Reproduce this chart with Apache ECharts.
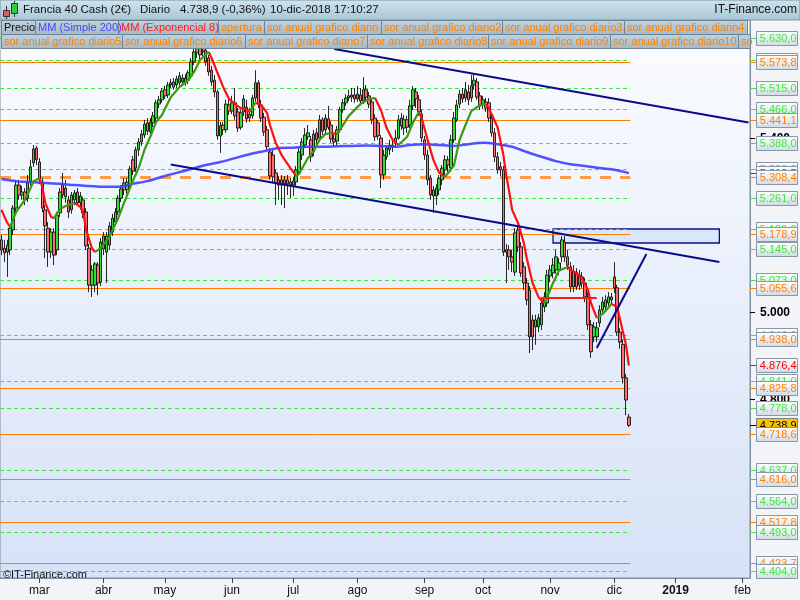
<!DOCTYPE html>
<html><head><meta charset="utf-8">
<script src="https://cdn.jsdelivr.net/npm/echarts@6/dist/echarts.min.js"></script>
<style>html,body{margin:0;padding:0;background:#f2f4f7}#c{width:800px;height:600px}</style>
</head><body><div id="c"></div>
<script>
// ---------- DATA ----------
const startDate = '2018-02-12';      // first weekday shown on the axis
const totalDays = 257;               // weekday slots on the axis
const monthNames = ['ene','feb','mar','abr','may','jun','jul','ago','sep','oct','nov','dic'];

// daily candles: [open, close, low, high]
const candles = [
[5165,5142,5130,5176],[5146,5135,5114,5165],[5153,5137,5080,5165],[5142,5192,5130,5199],[5188,5238,5176,5245],
[5238,5291,5229,5303],[5291,5268,5257,5303],[5268,5275,5257,5289],[5275,5257,5245,5284],[5261,5296,5252,5314],
[5298,5333,5289,5349],[5342,5374,5333,5383],[5376,5349,5337,5381],[5344,5303,5293,5353],[5298,5238,5229,5307],
[5234,5197,5123,5245],[5192,5137,5103,5206],[5137,5183,5123,5192],[5183,5130,5107,5192],[5142,5222,5130,5229],
[5227,5275,5218,5284],[5293,5268,5261,5319],[5284,5264,5250,5303],[5257,5229,5215,5266],[5234,5268,5225,5275],
[5257,5273,5245,5280],[5275,5250,5243,5284],[5250,5266,5234,5275],[5257,5227,5215,5264],[5229,5151,5142,5238],
[5146,5061,5045,5156],[5061,5096,5034,5107],[5061,5110,5045,5114],[5107,5066,5038,5114],[5068,5160,5059,5169],
[5174,5144,5130,5183],[5137,5174,5066,5183],[5153,5197,5142,5206],[5183,5215,5174,5225],[5206,5229,5197,5238],
[5229,5261,5222,5268],[5261,5282,5252,5291],[5296,5280,5268,5307],[5280,5298,5271,5307],[5291,5328,5284,5335],
[5349,5323,5314,5358],[5330,5372,5321,5379],[5372,5390,5358,5399],[5390,5408,5381,5418],[5406,5431,5399,5441],
[5434,5415,5406,5445],[5413,5436,5406,5445],[5434,5450,5424,5459],[5445,5480,5438,5487],[5477,5487,5468,5496],
[5487,5507,5480,5514],[5510,5496,5489,5519],[5498,5521,5491,5528],[5521,5526,5514,5535],[5528,5516,5510,5537],
[5521,5535,5514,5542],[5542,5526,5519,5551],[5528,5537,5521,5546],[5537,5528,5519,5546],[5532,5549,5523,5555],
[5542,5574,5535,5583],[5574,5597,5567,5606],[5595,5606,5583,5618],[5606,5590,5578,5615],[5597,5601,5583,5613],
[5601,5574,5565,5611],[5583,5551,5542,5590],[5555,5528,5519,5565],[5532,5505,5493,5544],[5505,5404,5395,5510],
[5404,5427,5365,5436],[5429,5418,5406,5436],[5418,5477,5411,5487],[5475,5461,5452,5487],[5461,5480,5454,5496],
[5480,5450,5441,5514],[5459,5422,5413,5468],[5424,5457,5418,5464],[5459,5489,5450,5498],[5470,5443,5434,5487],
[5454,5445,5436,5468],[5450,5491,5443,5498],[5491,5526,5482,5555],[5526,5477,5468,5532],[5475,5445,5436,5487],
[5447,5413,5404,5457],[5418,5379,5372,5427],[5367,5312,5303,5376],[5360,5310,5298,5372],[5319,5296,5245,5326],
[5303,5291,5257,5312],[5291,5303,5245,5314],[5303,5294,5238,5312],[5294,5303,5268,5314],[5298,5291,5261,5307],
[5291,5300,5266,5310],[5298,5326,5289,5335],[5321,5367,5314,5376],[5360,5390,5349,5399],[5383,5406,5376,5422],
[5402,5411,5395,5429],[5395,5356,5344,5404],[5367,5408,5358,5418],[5411,5395,5383,5422],[5399,5441,5390,5452],
[5441,5415,5406,5447],[5418,5445,5408,5454],[5443,5424,5418,5473],[5429,5397,5388,5438],[5397,5390,5381,5408],
[5392,5418,5383,5427],[5418,5464,5411,5471],[5464,5480,5457,5489],[5480,5491,5473,5500],[5491,5496,5484,5510],
[5493,5498,5482,5514],[5498,5489,5480,5514],[5489,5500,5482,5519],[5498,5484,5477,5514],[5484,5510,5477,5539],
[5510,5493,5486,5521],[5496,5477,5468,5505],[5482,5441,5431,5491],[5445,5402,5392,5454],[5434,5404,5395,5441],
[5399,5314,5284,5406],[5314,5360,5303,5372],[5356,5376,5349,5383],[5372,5383,5360,5395],[5383,5379,5367,5399],
[5388,5399,5376,5418],[5399,5441,5395,5452],[5445,5427,5418,5457],[5422,5441,5406,5452],[5441,5424,5411,5450],
[5429,5473,5422,5487],[5473,5510,5463,5519],[5505,5489,5468,5514],[5487,5459,5450,5498],[5454,5399,5390,5464],
[5395,5360,5349,5404],[5360,5303,5291,5372],[5307,5268,5257,5314],[5280,5266,5227,5289],[5266,5284,5245,5293],
[5280,5307,5268,5314],[5303,5330,5291,5337],[5326,5349,5314,5360],[5349,5337,5321,5358],[5330,5395,5321,5406],
[5395,5445,5388,5459],[5441,5475,5436,5487],[5477,5500,5468,5510],[5500,5489,5480,5514],[5491,5510,5482,5528],
[5505,5487,5475,5521],[5491,5519,5482,5544],[5521,5532,5510,5546],[5528,5493,5487,5537],[5496,5473,5464,5505],
[5477,5487,5466,5496],[5482,5468,5459,5491],[5480,5445,5436,5491],[5445,5411,5402,5454],[5411,5356,5344,5422],
[5356,5326,5317,5367],[5333,5326,5312,5344],[5326,5137,5128,5335],[5142,5137,5066,5156],[5142,5126,5096,5153],
[5126,5114,5091,5142],[5091,5181,5082,5192],[5188,5149,5137,5197],[5149,5089,5080,5160],[5103,5066,5050,5114],
[5066,5027,5015,5078],[5050,4942,4905,5059],[4981,4942,4912,4993],[4965,4981,4924,4993],[4965,4986,4953,4995],
[4970,5020,4958,5032],[5011,5034,4999,5045],[5020,5084,5011,5096],[5082,5096,5068,5107],[5089,5107,5077,5123],
[5096,5126,5087,5142],[5096,5112,5084,5123],[5126,5165,5114,5174],[5160,5126,5114,5174],[5126,5107,5096,5142],
[5103,5057,5045,5114],[5057,5091,5045,5107],[5091,5057,5050,5100],[5084,5061,5050,5096],[5080,5066,5055,5091],
[5066,5034,5022,5078],[5034,4970,4958,5045],[4970,4908,4894,4981],[4942,4965,4930,4976],[4942,4963,4930,4976],
[4974,5004,4965,5015],[5004,5022,4995,5034],[5011,5027,5004,5038],[5020,5034,5013,5045],[5027,5034,5018,5043],
[5080,5055,5043,5114],[5055,4953,4945,5062],[4953,4930,4915,4962],[4925,4848,4835,4935],[4848,4797,4762,4857],
[4758,4738.9,4735,4765]
];

// MM (Simple 200): [day index, value]
const smaPoints = [[0,5305],[5,5300],[10,5298],[15,5296],[20,5294],[25,5291],[30,5289],[35,5287],[40,5287],[45,5294],
[50,5300],[55,5310],[60,5319],[65,5328],[70,5337],[75,5344],[80,5353],[85,5362],[90,5369],[95,5376],[100,5377],
[105,5379],[110,5379],[115,5380],[120,5381],[125,5382],[130,5381],[135,5379],[140,5383],[145,5385],[150,5383],
[155,5381],[160,5385],[165,5388],[170,5385],[175,5379],[180,5367],[185,5356],[190,5346],[195,5339],[200,5335],
[205,5330],[210,5326],[215,5318.5]];

// MM (Exponencial 8), falling (red) and rising (green) stretches
const emaRedSegments = [
 [[0,5234],[2,5204],[3,5195]],
 [[13,5307],[14,5287],[15,5250],[17,5218],[18,5215]],
 [[25,5250],[27,5241],[28,5229],[29,5188],[31,5146],[32,5137]],
 [[71,5597],[72,5583],[74,5549],[76,5516],[78,5489],[80,5477],[82,5468],[84,5464],[85,5459]],
 [[87,5480],[89,5475],[91,5457],[92,5429],[94,5388],[96,5360],[99,5330],[101,5312]],
 [[113,5411],[115,5408]],
 [[128,5491],[130,5464],[132,5422],[134,5395],[136,5383]],
 [[143,5459],[144,5445],[146,5395],[148,5349],[150,5319],[152,5310]],
 [[166,5477],[167,5468],[170,5424],[172,5360],[173,5312],[174,5275],[175,5234],[177,5204],[179,5158],[180,5123],[182,5066],[184,5034],[186,5020]],
 [[194,5103],[195,5096],[197,5089],[199,5075],[201,5050],[202,5020],[204,4986]],
 [[209,5018],[211,5011],[212,4981],[214,4924],[215,4876.4]]
];
const emaGreenSegments = [
 [[3,5195],[5,5229],[8,5257],[10,5284],[11,5300],[13,5307]],
 [[18,5215],[20,5236],[22,5243],[25,5250]],
 [[32,5137],[34,5146],[37,5172],[40,5215],[42,5250],[45,5300],[47,5330],[49,5372],[51,5402],[53,5436],[55,5452],[58,5493],[61,5516],[64,5532],[66,5551],[68,5578],[71,5597]],
 [[85,5459],[87,5480]],
 [[101,5312],[102,5317],[105,5353],[107,5369],[109,5395],[111,5408],[113,5411]],
 [[115,5408],[116,5418],[119,5450],[123,5477],[126,5489],[128,5491]],
 [[136,5383],[139,5402],[141,5434],[143,5459]],
 [[152,5310],[155,5335],[157,5395],[159,5429],[161,5461],[164,5475],[166,5477]],
 [[186,5020],[187,5034],[189,5066],[191,5094],[194,5103]],
 [[204,4986],[206,4995],[208,5009],[209,5018]]
];

const greenLevels = [5630.0,5578.0,5515.0,5466.0,5388.0,5329.0,5261.0,5189.0,5145.0,5073.0,4946.0,4841.0,4778.0,4637.0,4564.0,4493.0,4404.0];
const orangeLevels = [5573.8,5441.1,5178.9,5055.6,4938.0,4825.8,4718.6,4616.0,4517.8,4423.7];
const aperturaLevel = 5308.4;
const yTickValues = [5400, 5000, 4800];
const lastPrice = 4738.9, lastEma = 4876.4, lastSma = 5318.5;

// drawn objects: [day index, value]
const trendLines = [
 [[114,5603.7],[256,5434.6]],
 [[58,5338.3],[246,5114.3]],
 [[204,4916.7],[221,5132.7]]
];
const redSegment = [[185,5031.6],[204,5031.6]];
const boxArea = [[189,5190.1],[246,5157.9]];

// ---------- BUILD ----------
const FONT = '"Liberation Sans", Arial, Helvetica, sans-serif';
const ORANGE = '#ff8000', GREEN_TXT = '#3ee83e', NAVY = '#0b0b8a';

const categories = [];
(function(){
  const d = new Date(startDate + 'T12:00:00Z');
  while (categories.length < totalDays) {
    const wd = d.getUTCDay();
    if (wd !== 0 && wd !== 6) categories.push(d.toISOString().slice(0,10));
    d.setUTCDate(d.getUTCDate() + 1);
  }
})();
const monthOf = s => +s.slice(5,7) - 1;
const isMonthStart = categories.map((c,i) => i > 0 && monthOf(c) !== monthOf(categories[i-1]));
const lastIdx = candles.length - 1;
const edgeIdx = totalDays - 1;

function fmt(v, dec) {
  const s = v.toFixed(dec);
  const parts = s.split('.');
  const ip = parts[0].replace(/\B(?=(\d{3})+(?!\d))/g, '.');
  return parts[1] ? ip + ',' + parts[1] : ip;
}

// level lines: [x index, value, kind]  kind 0 = green dashed, 1 = orange, 2 = apertura
const levelStyles = [
  {stroke:'#3ce63c', lineWidth:1, lineDash:[4,3]},
  {stroke:ORANGE, lineWidth:1, lineDash:null},
  {stroke:'rgba(255,140,40,0.85)', lineWidth:3, lineDash:[11,9]}
];
const levelData = greenLevels.map(v => [0, v, 0]).concat(orangeLevels.map(v => [0, v, 1])).concat([[0, aperturaLevel, 2]]);

// right-hand labels
const boxes = [];
greenLevels.forEach(v => boxes.push({v, c:GREEN_TXT, t:'#45e045'}));
orangeLevels.forEach(v => boxes.push({v, c:ORANGE, t:ORANGE}));
boxes.push({v:aperturaLevel, c:ORANGE, t:ORANGE});
boxes.push({v:lastSma, c:'#3c3cff', t:'#3c3cff'});
boxes.push({v:lastEma, c:'#ff0000', t:'#ff0000'});
boxes.push({v:lastPrice, c:'#000', t:'#000', bg:'#f7c600', border:'#7f7f7f'});
boxes.sort((a,b) => b.v - a.v);
const labelSpecs = yTickValues.map(v => ({v, tick:true})).concat(boxes);
const labelData = labelSpecs.map(s => [edgeIdx, s.v]);

// EMA series
const emaSeries = [];
emaRedSegments.forEach(seg => emaSeries.push({type:'line', data:seg, symbol:'none', z:4, silent:true,
  lineStyle:{color:'#ff1010', width:2.2}}));
emaGreenSegments.forEach(seg => emaSeries.push({type:'line', data:seg, symbol:'none', z:4, silent:true,
  lineStyle:{color:'#3c9a10', width:2.2}}));

// header graphics
const legendRow1 = [[1,35,'Precio','#111'],[35,118,'MM (Simple 200)','#4646ff'],[118,218,'MM (Exponencial 8)','#ff1a1a'],
 [218,264,'apertura',ORANGE],[264,381,'sor anual grafico diario',ORANGE],[381,502,'sor anual grafico diario2',ORANGE],
 [502,624,'sor anual grafico diario3',ORANGE],[624,747,'sor anual grafico diario4',ORANGE]];
const legendRow2 = [[1,122,'sor anual grafico diario5'],[122,245,'sor anual grafico diario6'],[245,367,'sor anual grafico diario7'],
 [367,488,'sor anual grafico diario8'],[488,610,'sor anual grafico diario9'],[610,738,'sor anual grafico diario10'],[738,750,'so']];

const g = [];
g.push({type:'rect', z:100, silent:true, shape:{x:0,y:0,width:800,height:20},
  style:{fill:{type:'linear',x:0,y:0,x2:0,y2:1,colorStops:[{offset:0,color:'#cfe4ee'},{offset:1,color:'#a9c7d6'}]}, stroke:'#7d95a3', lineWidth:1}});
function txt(x,y,text,fill,size,weight,align){
  return {type:'text', z:102, silent:true, x:x, y:y, style:{text:text, fill:fill, fontSize:size||12, fontFamily:FONT,
    fontWeight:weight||'normal', align:align||'left', verticalAlign:'middle', textAlign:align||'left', textVerticalAlign:'middle'}};
}
g.push({type:'line', z:101, silent:true, shape:{x1:6.5,y1:6,x2:6.5,y2:19}, style:{stroke:'#333', lineWidth:1}});
g.push({type:'rect', z:102, silent:true, shape:{x:3.5,y:10.5,width:6,height:6}, style:{fill:'#e85a5a', stroke:'#333', lineWidth:1}});
g.push({type:'line', z:101, silent:true, shape:{x1:14.5,y1:1,x2:14.5,y2:17}, style:{stroke:'#333', lineWidth:1}});
g.push({type:'rect', z:102, silent:true, shape:{x:11.5,y:3.5,width:6,height:10}, style:{fill:'#33cc33', stroke:'#333', lineWidth:1}});
g.push(txt(23,10,'Francia 40 Cash (2€)','#111',11.5));
g.push(txt(140,10,'Diario','#111',11.5));
g.push(txt(180,10,'4.738,9 (-0,36%)','#111',11.5));
g.push(txt(270,10,'10-dic-2018 17:10:27','#111',11.5));
g.push(txt(797,10,'IT-Finance.com','#111',12,'normal','right'));
const boxFill = {type:'linear',x:0,y:0,x2:0,y2:1,colorStops:[{offset:0,color:'#c3d3dd'},{offset:1,color:'#a3b8c6'}]};
legendRow1.forEach(r => {
  g.push({type:'rect', z:100, silent:true, shape:{x:r[0]+0.5,y:20.5,width:r[1]-r[0],height:14}, style:{fill:boxFill, stroke:'#6f8595', lineWidth:1}});
  g.push(txt(r[0]+3,28,r[2],r[3],11));
});
legendRow2.forEach(r => {
  g.push({type:'rect', z:100, silent:true, shape:{x:r[0]+0.5,y:34.5,width:r[1]-r[0],height:14}, style:{fill:boxFill, stroke:'#6f8595', lineWidth:1}});
  g.push(txt(r[0]+3,42,r[2],ORANGE,11));
});
g.push(txt(3,575,'©IT-Finance.com','#111',11));

const boxGrad = {type:'linear', x:0, y:0, x2:0, y2:1, colorStops:[{offset:0,color:'#ffffff'},{offset:1,color:'#d0dae6'}]};

function renderLevel(params, api) {
  const v = api.value(1), kind = api.value(2);
  const st = levelStyles[kind];
  const half = api.size([1, 0])[0] / 2;
  const p0 = api.coord([0, v]), p1 = api.coord([lastIdx, v]);
  const y = Math.round(p0[1]) + 0.5;
  return {type:'line', silent:true, shape:{x1:p0[0] - half, y1:y, x2:p1[0] + half, y2:y},
    style:{stroke:st.stroke, lineWidth:st.lineWidth, lineDash:st.lineDash, fill:null}};
}
function renderLabel(params, api) {
  const s = labelSpecs[params.dataIndex];
  const half = api.size([1, 0])[0] / 2;
  const p = api.coord([edgeIdx, api.value(1)]);
  const edge = p[0] + half;
  const yc = Math.round(p[1]);
  if (s.tick) {
    return {type:'group', children:[
      {type:'line', shape:{x1:edge, y1:yc+0.5, x2:edge+5, y2:yc+0.5}, style:{stroke:'#000', lineWidth:1}},
      {type:'text', style:{text:fmt(s.v,0), x:edge+10, y:yc+1, fill:'#000', font:'bold 12px ' + FONT,
        align:'left', verticalAlign:'middle', textAlign:'left', textVerticalAlign:'middle'}}
    ]};
  }
  const bx = Math.round(edge) + 6.5, by = yc - 6.5;
  return {type:'group', children:[
    {type:'line', shape:{x1:edge, y1:yc+0.5, x2:bx, y2:yc+0.5}, style:{stroke:s.t, lineWidth:1}},
    {type:'rect', shape:{x:bx, y:by, width:41, height:14}, style:{fill:s.bg || boxGrad, stroke:s.border || '#8797a6', lineWidth:1}},
    {type:'text', style:{text:fmt(s.v,1), x:bx + 40, y:yc + 1, fill:s.c, font:'11px ' + FONT,
      align:'right', verticalAlign:'middle', textAlign:'right', textVerticalAlign:'middle'}}
  ]};
}

const mlBase = {silent:true, symbol:'none', animation:false, label:{show:false}};
const option = {
  animation:false,
  backgroundColor:'#f2f4f7',
  textStyle:{fontFamily:FONT},
  grid:{left:0, right:50, top:20, bottom:22, show:true, borderColor:'#8090a0', borderWidth:1,
    backgroundColor:{type:'linear',x:0,y:0,x2:0,y2:1,colorStops:[{offset:0,color:'#fbfcff'},{offset:1,color:'#d6e2f7'}]}},
  xAxis:{type:'category', data:categories, boundaryGap:true,
    axisLine:{show:true, lineStyle:{color:'#8090a0'}},
    axisTick:{show:true, alignWithLabel:true, interval:(i)=>isMonthStart[i], length:5, lineStyle:{color:'#444'}},
    axisLabel:{interval:(i)=>isMonthStart[i], margin:7, color:'#111', fontSize:12, fontFamily:FONT,
      formatter:(v)=>{ const m = monthOf(v); return m === 0 ? '{y|' + v.slice(0,4) + '}' : monthNames[m]; },
      rich:{y:{fontWeight:'bold', fontSize:12, color:'#111', fontFamily:FONT}}},
    splitLine:{show:false}},
  yAxis:{type:'value', position:'right', min:4388.1, max:5670.3, scale:true,
    axisLine:{show:true, lineStyle:{color:'#8090a0'}}, axisTick:{show:false}, axisLabel:{show:false}, splitLine:{show:false}},
  graphic:g,
  series:[
    {type:'line', name:'area', data:[], z:1, silent:true,
      markArea:{silent:true, animation:false, itemStyle:{color:'rgba(214,228,251,0.85)', borderColor:NAVY, borderWidth:1.3},
        data:[[{coord:boxArea[0]},{coord:boxArea[1]}]]}},
    {type:'custom', name:'levels', data:levelData, renderItem:renderLevel, z:1, silent:true,
      encode:{x:0, y:1}},
    {type:'candlestick', name:'Precio', data:candles, z:2, barWidth:3, silent:true,
      itemStyle:{color:'#33dd33', color0:'#ff6e6e', borderColor:'#111', borderColor0:'#111', borderWidth:0.9}},
    {type:'line', name:'MM (Simple 200)', data:smaPoints, symbol:'none', smooth:0.3, z:3, silent:true,
      lineStyle:{color:'#3f3fff', width:2.5, opacity:0.9}},
    ...emaSeries,
    {type:'line', name:'trend', data:[], z:5, silent:true,
      markLine:Object.assign({}, mlBase, {lineStyle:{color:NAVY, width:2, type:'solid'},
        data: trendLines.map(t => [{coord:t[0]}, {coord:t[1]}])})},
    {type:'line', name:'red segment', data:[], z:5, silent:true,
      markLine:Object.assign({}, mlBase, {lineStyle:{color:'#ff1a1a', width:2.2, type:'solid'},
        data: [[{coord:redSegment[0]}, {coord:redSegment[1]}]]})},
    {type:'custom', name:'labels', data:labelData, renderItem:renderLabel, z:10, silent:true, clip:false,
      encode:{x:0, y:1}}
  ]
};
const chart = echarts.init(document.getElementById('c'), null, {renderer:'canvas'});
chart.setOption(option);
</script>
</body></html>
